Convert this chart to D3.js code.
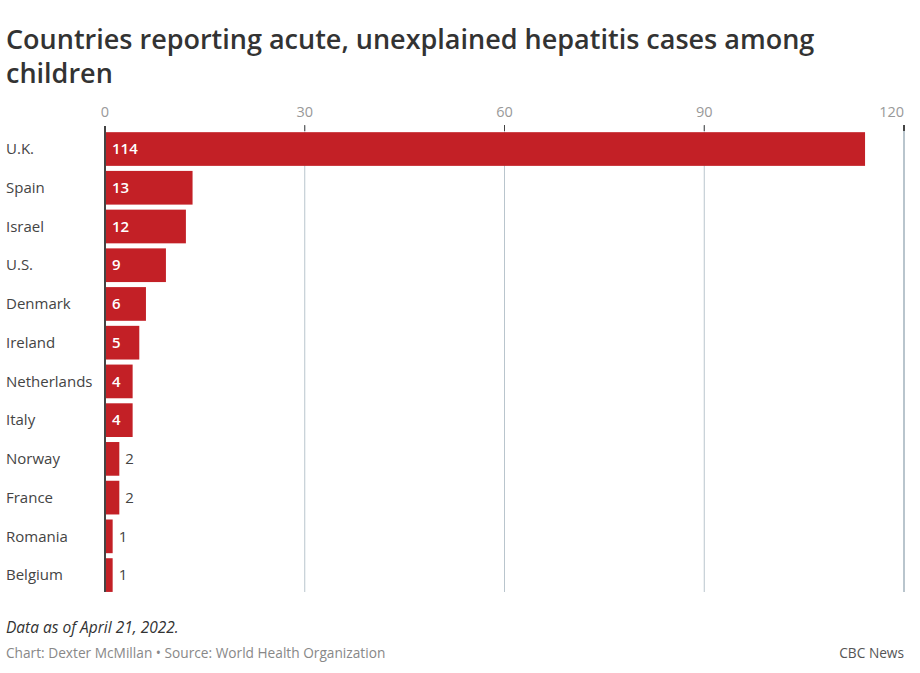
<!DOCTYPE html>
<html><head><meta charset="utf-8">
<script src="https://cdn.jsdelivr.net/npm/d3@7"></script>
<style>
body{margin:0;background:#fff;font-family:"Open Sans","Noto Sans",sans-serif;}
</style></head>
<body><svg id="chart" width="920" height="673"></svg>
<script>
const countries = ["U.K.","Spain","Israel","U.S.","Denmark","Ireland","Netherlands","Italy","Norway","France","Romania","Belgium"];
const cases = [114,13,12,9,6,5,4,4,2,2,1,1];
const ticks = [0,30,60,90,120];
const titleLines = ["Countries reporting acute, unexplained hepatitis cases among","children"];
const note = "Data as of April 21, 2022.";
const source = "Chart: Dexter McMillan \u2022 Source: World Health Organization";
const brand = "CBC News";

const data = countries.map((c,i)=>({country:c,value:cases[i]}));
const svg = d3.select("#chart");
const x = d3.scaleLinear().domain([0,120]).range([105,904]);
const y = d3.scaleBand().domain(countries).range([131.4,592.7]).paddingInner(0.13).paddingOuter(0.02);

svg.selectAll("text.title").data(titleLines).join("text").attr("class","title")
  .attr("x",6).attr("y",(d,i)=>49+i*34).attr("font-size",27).attr("font-weight",600).attr("fill","#333").text(d=>d);

// grid
const g = svg.append("g");
g.selectAll("line.grid").data(ticks.filter(t=>t>0)).join("line").attr("class","grid")
  .attr("x1",d=>x(d)).attr("x2",d=>x(d)).attr("y1",126).attr("y2",592)
  .attr("stroke","#b9c5cd").attr("stroke-width",d=>d===120?2:1);
g.selectAll("line.tk").data(ticks.filter(t=>t>0)).join("line").attr("class","tk")
  .attr("x1",d=>x(d)).attr("x2",d=>x(d)).attr("y1",125).attr("y2",131)
  .attr("stroke","#444").attr("stroke-width",d=>d===120?2:1);
g.selectAll("text.tick").data(ticks).join("text").attr("class","tick")
  .attr("x",d=>x(d)).attr("y",117)
  .attr("text-anchor",d=>d===120?"end":"middle").attr("font-size",14.5).attr("fill","#999").text(d=>d);

svg.selectAll("rect.bar").data(data).join("rect").attr("class","bar")
  .attr("x",x(0)+1).attr("y",d=>y(d.country)).attr("width",d=>x(d.value)-x(0)).attr("height",y.bandwidth())
  .attr("fill","#c32026");

svg.selectAll("text.cat").data(data).join("text").attr("class","cat")
  .attr("x",6).attr("y",d=>y(d.country)+y.bandwidth()/2).attr("dy","0.35em").attr("font-size",15).attr("fill","#444").text(d=>d.country);

svg.selectAll("text.val").data(data).join("text").attr("class","val")
  .attr("x",d=>d.value>=4? x(0)+7 : x(d.value)+7)
  .attr("y",d=>y(d.country)+y.bandwidth()/2).attr("dy","0.35em").attr("font-size",15)
  .attr("font-weight",d=>d.value>=4?600:400)
  .attr("fill",d=>d.value>=4?"#fff":"#444").text(d=>d.value);

svg.append("line").attr("x1",x(0)).attr("x2",x(0)).attr("y1",126).attr("y2",592).attr("stroke","#444").attr("stroke-width",2);

svg.append("text").attr("x",6).attr("y",633).attr("font-size",15.5).attr("font-style","italic").attr("fill","#333").text(note);
svg.append("text").attr("x",6).attr("y",658).attr("font-size",13.7).attr("fill","#888").text(source);
svg.append("text").attr("x",904).attr("y",658).attr("text-anchor","end").attr("font-size",13.7).attr("fill","#555").text(brand);
</script></body></html>
